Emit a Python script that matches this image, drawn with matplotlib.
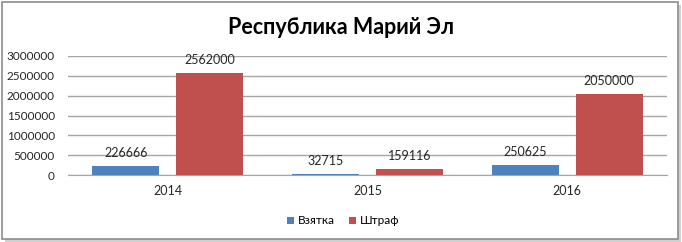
import matplotlib
matplotlib.use("Agg")
import matplotlib.pyplot as plt
from matplotlib.patches import Rectangle
import numpy as np

plt.rcParams['font.family'] = ['Lato', 'DejaVu Sans']

# data
years = ['2014', '2015', '2016']
vzyatka = [226666, 32715, 250625]
shtraf = [2562000, 159116, 2050000]
yticks = [0, 500000, 1000000, 1500000, 2000000, 2500000, 3000000]

blue = '#4F81BD'
red = '#C0504D'
grid_c = '#A6A6A6'

fig = plt.figure(figsize=(6.82, 2.42), dpi=100)
fig.patch.set_facecolor('white')

# outer frame with shadow
fig.patches.append(Rectangle((5 / 682, 0), 676 / 682, 237 / 242, transform=fig.transFigure,
                             facecolor='#D0D0D0', edgecolor='none', zorder=-2))
fig.patches.append(Rectangle((2 / 682, 3 / 242), 676 / 682, 237 / 242, transform=fig.transFigure,
                             facecolor='white', edgecolor='#8C8C8C', linewidth=1.2, zorder=-1))

ax = fig.add_axes([68 / 682, 1 - 175 / 242, 599 / 682, 119 / 242])
ax.set_zorder(3)
ax.set_facecolor('none')
x = np.arange(len(years))
w = 0.335
b1 = ax.bar(x - 0.21, vzyatka, w, color=blue, label='Взятка', zorder=3)
b2 = ax.bar(x + 0.21, shtraf, w, color=red, label='Штраф', zorder=3)

for bars, vals in ((b1, vzyatka), (b2, shtraf)):
    for r, v in zip(bars, vals):
        ax.annotate(str(v), (r.get_x() + r.get_width() / 2, v), xytext=(0, 5),
                    textcoords='offset points', ha='center', va='bottom',
                    fontsize=9, color='#262626', zorder=4)

ax.set_xlim(-0.5, 2.5)
ax.set_ylim(0, 3000000)
ax.set_yticks(yticks)
ax.set_yticklabels([str(t) for t in yticks])
ax.set_xticks(x)
ax.set_xticklabels(years)
ax.tick_params(axis='both', length=0, labelsize=9, colors='#262626')
ax.tick_params(axis='y', labelsize=8.5, pad=9.5)
ax.tick_params(axis='x', pad=7)
ax.yaxis.grid(True, color=grid_c, linewidth=1)
ax.set_axisbelow(True)
for s in ('top', 'right', 'left'):
    ax.spines[s].set_visible(False)
ax.spines['bottom'].set_color(grid_c)

fig.text(341 / 682, 1 - 27 / 242, 'Республика Марий Эл', ha='center', va='center',
         fontsize=15.5, fontweight='bold', color='black')

fig.legend(handles=[b1, b2], loc='center', bbox_to_anchor=(343 / 682, 1 - 221 / 242),
           ncol=2, frameon=False, fontsize=8.5, handlelength=0.6, handleheight=0.6,
           handletextpad=0.3, columnspacing=1.2)

fig.savefig('out.png', dpi=100, facecolor='white')
